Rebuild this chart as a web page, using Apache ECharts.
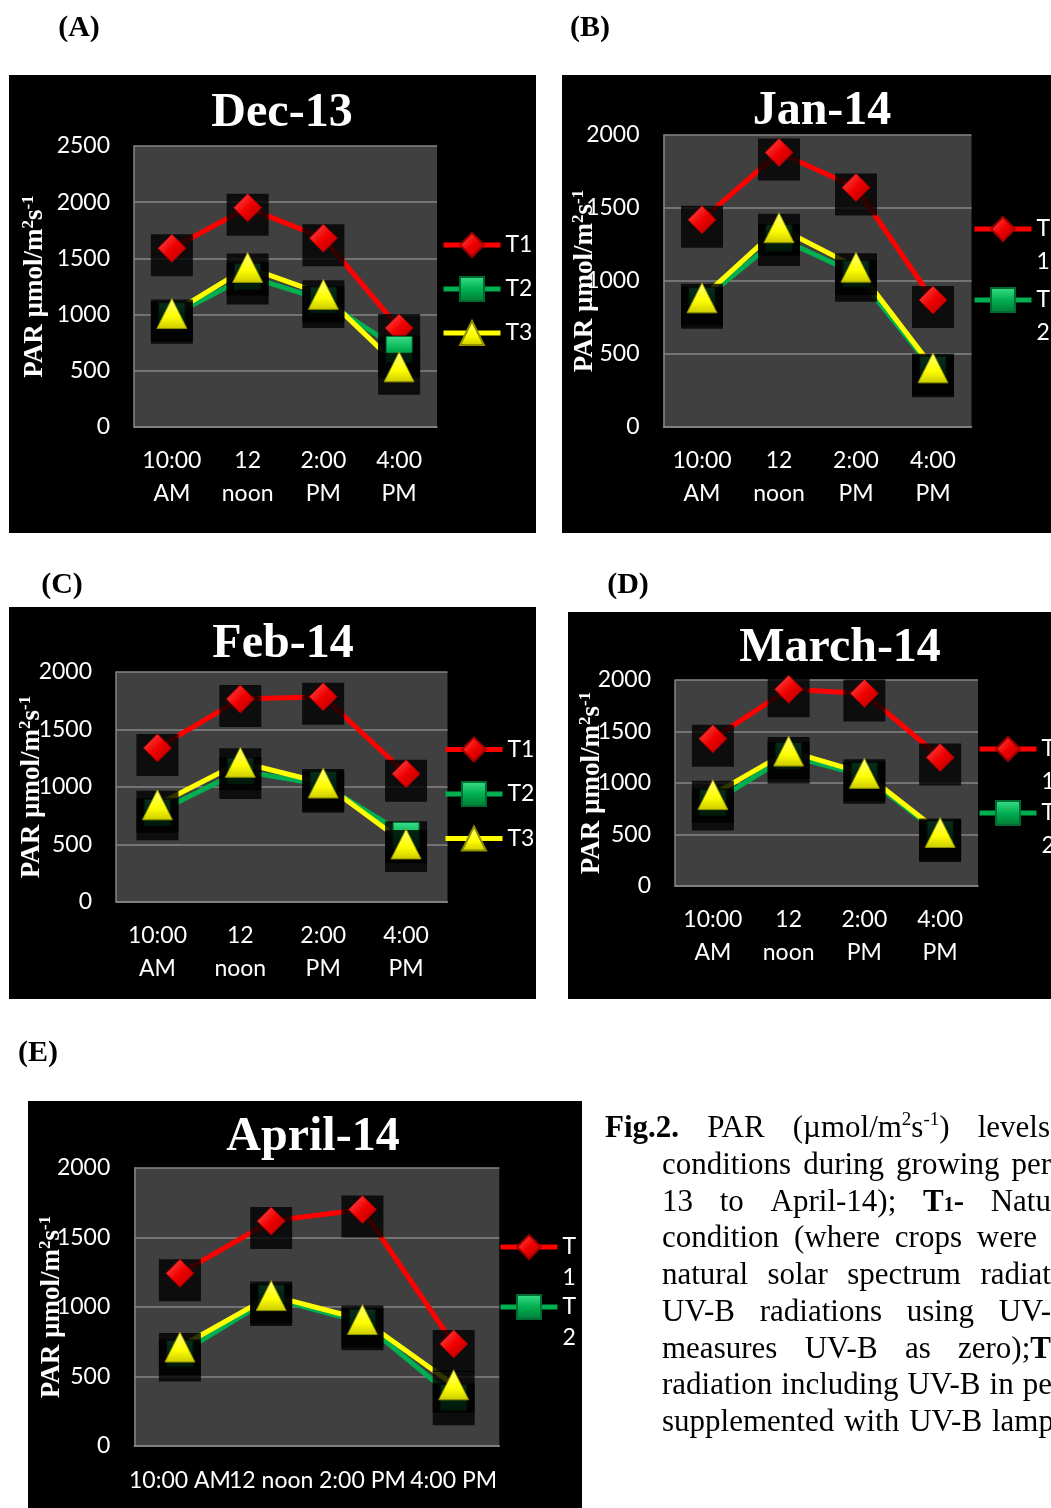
<!DOCTYPE html>
<html>
<head>
<meta charset="utf-8">
<script src="https://cdn.jsdelivr.net/npm/echarts@6/dist/echarts.min.js"></script>
<style>
html,body{margin:0;padding:0;background:#fff;width:1051px;height:1508px;overflow:hidden;position:relative;}
#chart{position:absolute;left:0;top:0;width:1051px;height:1508px;}
.cap{position:absolute;height:37px;line-height:37px;font-family:"Liberation Serif","Times New Roman",serif;font-size:31px;color:#000;display:flex;justify-content:space-between;white-space:nowrap;z-index:5;}
.cap sup{font-size:19px;line-height:0;vertical-align:0;position:relative;top:-12px;}
.cap .sub{font-size:20px;}
</style>
</head>
<body>
<div id="chart"></div>
<div id="caption"></div>
<script>
// ---------------- data ----------------
const categories = ['10:00 AM', '12 noon', '2:00 PM', '4:00 PM'];
const seriesNames = ['T1', 'T2', 'T3'];
const panelTitles = ['Dec-13', 'Jan-14', 'Feb-14', 'March-14', 'April-14'];
const panelLetters = ['(A)', '(B)', '(C)', '(D)', '(E)'];
const yAxisMax = [2500, 2000, 2000, 2000, 2000];
const yAxisInterval = 500;

const dec13_T1 = [1590, 1950, 1680, 880];
const dec13_T2 = [990, 1340, 1130, 690];
const dec13_T3 = [1010, 1420, 1180, 535];

const jan14_T1 = [1420, 1880, 1640, 870];
const jan14_T2 = [865, 1295, 1050, 395];
const jan14_T3 = [885, 1365, 1095, 405];

const feb14_T1 = [1340, 1765, 1785, 1115];
const feb14_T2 = [780, 1140, 1020, 580];
const feb14_T3 = [845, 1215, 1035, 505];

const mar14_T1 = [1430, 1910, 1870, 1248];
const mar14_T2 = [810, 1265, 1070, 505];
const mar14_T3 = [887, 1310, 1094, 519];

const apr14_T1 = [1242, 1618, 1701, 734];
const apr14_T2 = [665, 1065, 890, 350];
const apr14_T3 = [712, 1082, 910, 440];

const panelData = [
  [dec13_T1, dec13_T2, dec13_T3],
  [jan14_T1, jan14_T2, jan14_T3],
  [feb14_T1, feb14_T2, feb14_T3],
  [mar14_T1, mar14_T2, mar14_T3],
  [apr14_T1, apr14_T2, apr14_T3]
];

const captionLines = [
  ['<b>Fig.2.</b>', 'PAR', '(µmol/m<sup>2</sup>s<sup>-1</sup>)', 'levels'],
  ['conditions', 'during', 'growing', 'per'],
  ['13', 'to', 'April-14);', '<b>T<span class="sub">1</span>-</b>', 'Natu'],
  ['condition', '(where', 'crops', 'were'],
  ['natural', 'solar', 'spectrum', 'radiat'],
  ['UV-B', 'radiations', 'using', 'UV-'],
  ['measures', 'UV-B', 'as', 'zero);<b>T</b>'],
  ['radiation', 'including', 'UV-B', 'in', 'pe'],
  ['supplemented', 'with', 'UV-B', 'lamp']
];

// ---------------- layout / style ----------------
const layout = [
  {bg: [9, 75, 527, 458], grid: [134, 146, 303, 281], title: [282, 110], letter: [79, 28],
   legend: {left: 441, top: 230, gap: 14, wrap: false, n: 3}, nameGap: 84, multi: true, xMargin: 17.5},
  {bg: [562, 75, 495, 458], grid: [663.5, 135, 308, 292], title: [822, 108], letter: [590, 28],
   legend: {left: 972, top: 179.5, gap: -28, wrap: true, lh: 33, n: 2}, nameGap: 63, multi: true, xMargin: 17.5},
  {bg: [9, 607, 527, 392], grid: [116, 672, 331.5, 230], title: [283, 641], letter: [62, 585],
   legend: {left: 443, top: 734.5, gap: 14.5, wrap: false, n: 3}, nameGap: 69, multi: true, xMargin: 17.5},
  {bg: [568, 612, 490, 387], grid: [675, 680, 303, 206], title: [840, 645], letter: [628, 585],
   legend: {left: 977, top: 699.5, gap: -35, wrap: true, lh: 33, n: 2}, nameGap: 68, multi: true, xMargin: 17.5},
  {bg: [28, 1101, 554, 407], grid: [134.3, 1168, 365, 278], title: [313, 1134], letter: [38, 1053],
   legend: {left: 498, top: 1200.5, gap: -33, wrap: true, lh: 31, n: 2}, nameGap: 67, multi: false, xMargin: 18.5}
];

const lineColors = ['#ff0000', '#00b050', '#ffff00'];
const symbols = ['diamond', 'rect', 'triangle'];
const symbolSizes = [28, 26, 30];
const fills = [
  {type: 'linear', x: 0, y: 0, x2: 1, y2: 1, colorStops: [{offset: 0, color: '#ff5a5a'}, {offset: 0.5, color: '#f00000'}, {offset: 1, color: '#a80000'}]},
  {type: 'linear', x: 0, y: 0, x2: 0, y2: 1, colorStops: [{offset: 0, color: '#3de08a'}, {offset: 0.5, color: '#00b050'}, {offset: 1, color: '#007a36'}]},
  {type: 'linear', x: 0, y: 0, x2: 0, y2: 1, colorStops: [{offset: 0, color: '#ffff80'}, {offset: 0.6, color: '#ffff00'}, {offset: 1, color: '#caca00'}]}
];
const borders = ['#a00000', '#006b30', '#8f8f00'];

const grids = [], xAxes = [], yAxes = [], titles = [], legends = [], series = [], graphics = [];

layout.forEach((L, i) => {
  graphics.push({type: 'rect', z: -10, silent: true,
    shape: {x: L.bg[0], y: L.bg[1], width: L.bg[2], height: L.bg[3]}, style: {fill: '#000'}});
  graphics.push({type: 'text', silent: true, x: L.letter[0], y: L.letter[1],
    style: {text: panelLetters[i], fill: '#000', fontFamily: 'Liberation Serif', fontWeight: 'bold',
      fontSize: 30, align: 'center', verticalAlign: 'middle'}});

  grids.push({left: L.grid[0], top: L.grid[1], width: L.grid[2], height: L.grid[3],
    show: true, backgroundColor: '#404040', borderWidth: 0});

  xAxes.push({type: 'category', gridIndex: i, data: categories, boundaryGap: true,
    axisLine: {show: true, lineStyle: {color: '#868686', width: 1.5}},
    axisTick: {show: false},
    axisLabel: {color: '#fff', fontFamily: 'Lato', fontSize: 23, lineHeight: 33, interval: 0,
      margin: L.xMargin, formatter: L.multi ? (v => v.replace(' ', '\n')) : (v => v)}});

  yAxes.push({type: 'value', gridIndex: i, min: 0, max: yAxisMax[i], interval: yAxisInterval,
    axisLine: {show: true, lineStyle: {color: '#868686', width: 1.5}},
    axisTick: {show: false},
    splitLine: {show: true, lineStyle: {color: '#868686', width: 1.5}},
    axisLabel: {color: '#fff', fontFamily: 'Lato', fontSize: 23, margin: 24, formatter: v => String(v)},
    name: '{b|PAR µmol/m}{s|2}{b|s}{s|-1}', nameLocation: 'middle', nameRotate: 90, nameGap: L.nameGap,
    nameMoveOverlap: false,
    nameTextStyle: {color: '#fff', rich: {
      b: {fontFamily: 'Liberation Serif', fontWeight: 'bold', fontSize: 27, color: '#fff', lineHeight: 30},
      s: {fontFamily: 'Liberation Serif', fontWeight: 'bold', fontSize: 17, color: '#fff', lineHeight: 16, verticalAlign: 'top'}
    }}});

  titles.push({text: panelTitles[i], left: L.title[0], top: L.title[1] - 23, textAlign: 'center', padding: 0,
    textStyle: {color: '#fff', fontFamily: 'Liberation Serif', fontWeight: 'bold', fontSize: 48, lineHeight: 54}});

  const lg = L.legend;
  legends.push({orient: 'vertical', left: lg.left, top: lg.top, itemGap: lg.gap, padding: 0,
    itemWidth: 57, itemHeight: 30, selectedMode: false,
    data: seriesNames.slice(0, lg.n),
    lineStyle: {width: 5},
    formatter: lg.wrap ? (n => ' \n' + n.split('').join('\n')) : (n => n),
    textStyle: {color: '#fff', fontFamily: 'Lato', fontSize: 23, lineHeight: lg.wrap ? lg.lh : 30}});

  const d = panelData[i];
  // lines
  d.forEach((vals, k) => {
    series.push({type: 'line', name: seriesNames[k], xAxisIndex: i, yAxisIndex: i, data: vals,
      symbol: symbols[k], symbolSize: symbolSizes[k], showSymbol: false, silent: true, z: 2,
      lineStyle: {color: lineColors[k], width: 5},
      itemStyle: {color: fills[k], borderColor: borders[k], borderWidth: 1}});
  });
  // black marker backgrounds and markers
  d.forEach((vals, k) => {
    series.push({type: 'scatter', name: 'bg' + seriesNames[k], xAxisIndex: i, yAxisIndex: i, data: vals,
      symbol: 'rect', symbolSize: [42, 42], symbolOffset: [0, 7], silent: true, z: 3 + 2 * k,
      itemStyle: {color: '#000'}});
    series.push({type: 'scatter', name: seriesNames[k], xAxisIndex: i, yAxisIndex: i, data: vals,
      symbol: symbols[k], symbolSize: symbolSizes[k], silent: true, z: 4 + 2 * k,
      itemStyle: {color: fills[k], borderColor: borders[k], borderWidth: 1, opacity: 1}});
  });
});

const chart = echarts.init(document.getElementById('chart'), null, {renderer: 'canvas'});
chart.setOption({
  animation: false,
  backgroundColor: '#ffffff',
  title: titles,
  legend: legends,
  grid: grids,
  xAxis: xAxes,
  yAxis: yAxes,
  series: series,
  graphic: {elements: graphics}
});

// caption (justified lines, clipped at page edge like the reference)
const capSpec = [
  {left: 605, width: 445}, {left: 662, width: 389}, {left: 662, width: 389},
  {left: 662, width: 375}, {left: 662, width: 389}, {left: 662, width: 389},
  {left: 662, width: 389}, {left: 662, width: 390}, {left: 662, width: 392}
];
const capEl = document.getElementById('caption');
captionLines.forEach((words, j) => {
  const div = document.createElement('div');
  div.className = 'cap';
  div.style.left = capSpec[j].left + 'px';
  div.style.width = capSpec[j].width + 'px';
  div.style.top = (1108 + j * 36.75) + 'px';
  div.innerHTML = words.map(w => '<span>' + w + '</span>').join('');
  capEl.appendChild(div);
});
</script>
</body>
</html>
